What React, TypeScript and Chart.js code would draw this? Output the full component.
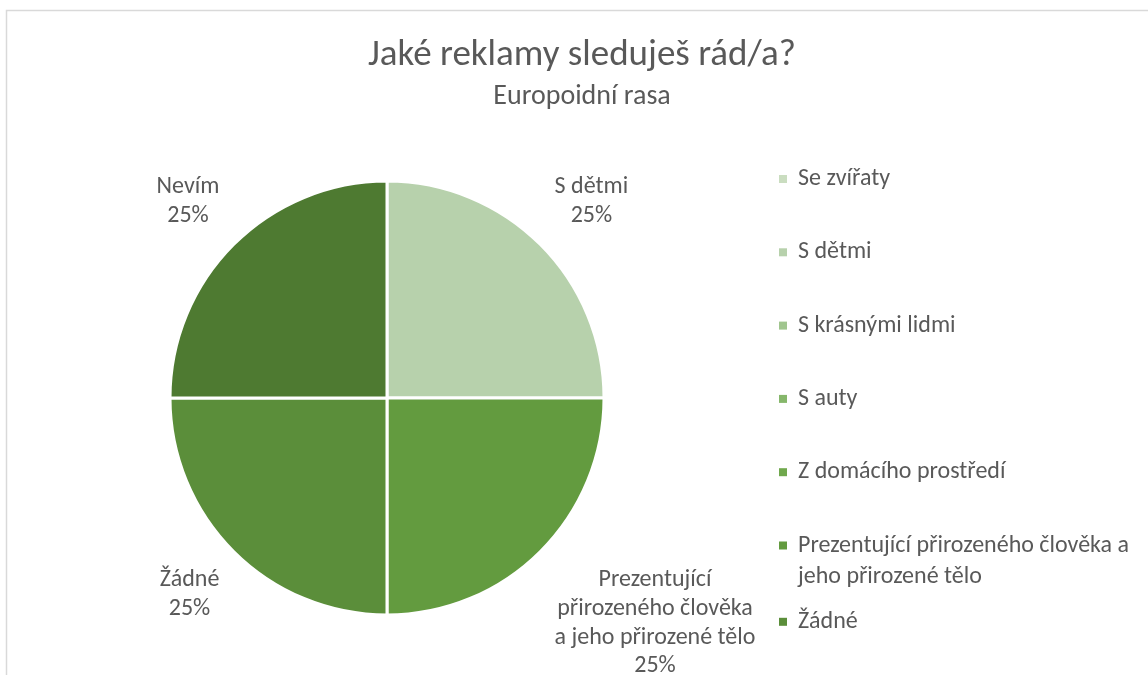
import React, { useEffect, useRef } from "react";
import { Chart, registerables } from "chart.js";

Chart.register(...registerables);

const categories = [
  "Se zvířaty",
  "S dětmi",
  "S krásnými lidmi",
  "S auty",
  "Z domácího prostředí",
  "Prezentující přirozeného člověka a jeho přirozené tělo",
  "Žádné",
  "Nevím",
];
const values = [0, 25, 0, 0, 0, 25, 25, 25];
const colors = ["#CADDC0", "#B7D1AC", "#A0C58E", "#86B76B", "#70A84D", "#639B3F", "#5B8E3A", "#4E7A31"];
const legendLines = [
  ["Se zvířaty"],
  ["S dětmi"],
  ["S krásnými lidmi"],
  ["S auty"],
  ["Z domácího prostředí"],
  ["Prezentující přirozeného člověka a", "jeho přirozené tělo"],
  ["Žádné"],
  ["Nevím"],
];
const dataLabelLines = [
  ["Se zvířaty"],
  ["S dětmi"],
  ["S krásnými lidmi"],
  ["S auty"],
  ["Z domácího prostředí"],
  ["Prezentující", "přirozeného člověka", "a jeho přirozené tělo"],
  ["Žádné"],
  ["Nevím"],
];
const titleText = "Jaké reklamy sleduješ rád/a?";
const subtitleText = "Europoidní rasa";

const FONT = "Carlito, Calibri, Lato, 'Open Sans', sans-serif";
const TEXT = "#595959";

const decorPlugin = {
  id: "decor",
  beforeDraw(chart: any) {
    const ctx = chart.ctx;
    ctx.save();
    ctx.fillStyle = "#FFFFFF";
    ctx.fillRect(0, 0, chart.width, chart.height);
    ctx.strokeStyle = "#D9D9D9";
    ctx.lineWidth = 1.5;
    ctx.strokeRect(6.5, 10.5, chart.width + 20, chart.height + 20);
    ctx.restore();
  },
  afterDraw(chart: any) {
    const ctx = chart.ctx;
    ctx.save();
    ctx.fillStyle = TEXT;
    ctx.textAlign = "center";
    ctx.textBaseline = "middle";
    ctx.font = `37px ${FONT}`;
    ctx.fillText(titleText, 582, 56);
    ctx.font = `28px ${FONT}`;
    ctx.fillText(subtitleText, 582, 97);

    // legend
    const labels = chart.data.labels as string[];
    let y = 179;
    ctx.font = `24px ${FONT}`;
    ctx.textAlign = "left";
    labels.forEach((_, i) => {
      const lines = legendLines[i];
      ctx.fillStyle = colors[i];
      ctx.fillRect(779, y - 4, 8, 8);
      ctx.fillStyle = TEXT;
      lines.forEach((ln, k) => ctx.fillText(ln, 798, y + k * 31));
      y += 73.3 + (lines.length - 1) * 3;
    });

    // data labels
    const meta = chart.getDatasetMeta(0);
    const total = values.reduce((a, b) => a + b, 0);
    ctx.font = `24px ${FONT}`;
    ctx.textAlign = "center";
    const lh = 28.8;
    meta.data.forEach((arc: any, i: number) => {
      const v = values[i];
      if (!v) return;
      const p = arc.getProps(["x", "y", "startAngle", "endAngle", "outerRadius"], true);
      const mid = (p.startAngle + p.endAngle) / 2;
      const lines = [...dataLabelLines[i], Math.round((v / total) * 100) + "%"];
      let w = 0;
      lines.forEach((l) => (w = Math.max(w, ctx.measureText(l).width)));
      const h = lines.length * lh;
      const ax = p.x + (p.outerRadius + 20) * Math.cos(mid);
      const ay = p.y + (p.outerRadius + 20) * Math.sin(mid);
      const cx = ax + Math.sign(Math.cos(mid)) * w / 2;
      const top = Math.sin(mid) > 0 ? ay : ay - h;
      ctx.fillStyle = TEXT;
      lines.forEach((l, k) => ctx.fillText(l, cx, top + lh / 2 + k * lh));
    });
    ctx.restore();
  },
};

export default function App() {
  const ref = useRef<HTMLCanvasElement>(null);
  useEffect(() => {
    document.body.style.margin = "0";
    const chart = new Chart(ref.current!, {
      type: "pie",
      data: {
        labels: categories,
        datasets: [
          {
            data: values,
            backgroundColor: colors,
            borderColor: "#FFFFFF",
            borderWidth: 3,
          },
        ],
      },
      options: {
        responsive: false,
        animation: false,
        devicePixelRatio: 1,
        radius: 217,
        layout: { padding: { left: 170, right: 544, top: 181, bottom: 60 } },
        plugins: {
          legend: { display: false },
          title: { display: false },
          tooltip: { enabled: false },
        },
      } as any,
      plugins: [decorPlugin],
    });
    return () => chart.destroy();
  }, []);
  return <canvas ref={ref} width={1148} height={675} style={{ display: "block", width: 1148, height: 675 }} />;
}
